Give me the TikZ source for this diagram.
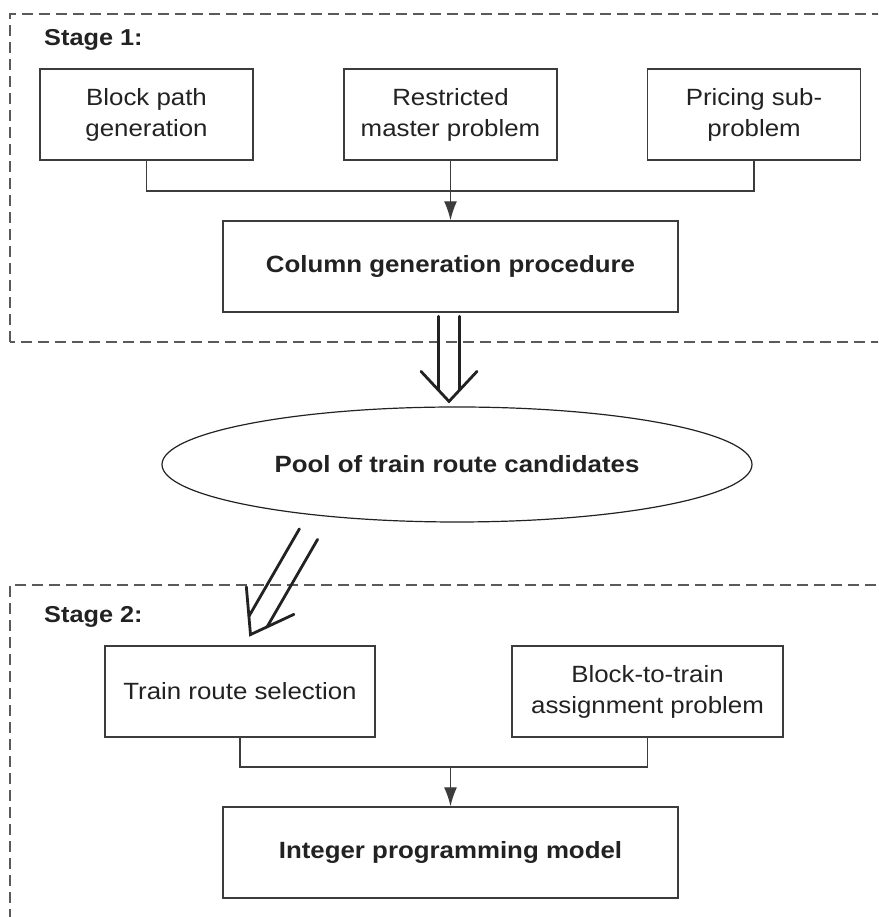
\documentclass[tikz,border=0pt]{standalone}
\usepackage{fontspec}
\setmainfont{Liberation Sans}[FakeStretch=1.1]
\usetikzlibrary{arrows.meta,shapes.geometric,calc}
\definecolor{ink}{HTML}{222222}
\definecolor{frame}{HTML}{3C3C3C}
\definecolor{dashc}{HTML}{5A5A5A}
\begin{document}
\begin{tikzpicture}[x=1pt,y=1pt,
  box/.style={draw=frame, line width=1.4pt, minimum height=91pt, align=center,
    inner sep=0pt, text=ink, font=\fontsize{23.5}{31}\selectfont},
  bbox/.style={box, font=\fontsize{23.5}{31}\selectfont\bfseries},
  stagebox/.style={draw=dashc, line width=1.2pt, dash pattern=on 11pt off 6pt},
  stagelabel/.style={anchor=base west, text=ink, inner sep=0pt, font=\fontsize{23}{30}\selectfont\bfseries},
  conn/.style={draw=frame, line width=1.4pt},
  arr/.style={conn, -{Latex[length=19pt,width=13pt]}},
  fat/.style={draw=ink, line width=2.8pt, line cap=round, line join=miter}
]
\useasboundingbox (0,0) rectangle (878,917);
\fill[white] (0,0) rectangle (878,917);
\clip (0,0) rectangle (878,917);

% stage frames
\draw[stagebox] (10,575) rectangle (900,903);
\draw[stagebox] (10,-20) rectangle (900,332);
\node[stagelabel] (s1) at (44,871) {Stage 1:};
\node[stagelabel] (s2) at (44,294) {Stage 2:};

% stage 1
\node[box, minimum width=213pt] (b1) at (146.5,802.5) {Block path\\generation};
\node[box, minimum width=213pt] (b2) at (450.5,802.5) {Restricted\\master problem};
\node[box, minimum width=213pt] (b3) at (754,802.5) {Pricing sub-\\problem};
\node[bbox, minimum width=455pt] (cg) at (450.5,650.5) {Column generation procedure};
\coordinate (j1) at (450.5,726);
\draw[conn] (b1.south) |- (j1) -| (b3.south);
\draw[arr] (b2.south) -- (cg.north);

% pool
\node[ellipse, draw=ink, line width=1.2pt, minimum width=590pt, minimum height=115pt,
  inner sep=0pt, text=ink, font=\fontsize{23.5}{31}\selectfont\bfseries] (pool) at (457,452.5)
  {Pool of train route candidates};

% stage 2
\node[box, minimum width=270pt] (trs) at (240,225.5) {Train route selection};
\node[box, minimum width=271pt] (btt) at (647.5,225.5) {Block-to-train\\assignment problem};
\node[bbox, minimum width=455pt] (ipm) at (450.5,64.5) {Integer programming model};
\coordinate (j2) at (450.5,150);
\draw[conn] (trs.south) |- (j2) -| (btt.south);
\draw[arr] (j2) -- (ipm.north);

% double arrows: pool <- column generation, trs <- pool
\coordinate (t1) at ($(pool.north)+(-8,5)$);
\begin{scope}[shift={(t1)}, rotate=-90]
  \draw[fat] (-85,10.5) -- (-11.3,10.5);
  \draw[fat] (-85,-10.5) -- (-11.3,-10.5);
  \draw[fat] (-30,28) -- (0,0) -- (-30,-28);
\end{scope}
\coordinate (t2) at (250.5,282.4);
\begin{scope}[shift={(t2)}, rotate=240]
  \draw[fat] (-116,10.5) -- (-15,10.5);
  \draw[fat] (-116,-10.5) -- (-15,-10.5);
  \draw[fat] (-39.3,27.5) -- (0,0) -- (-39.3,-27.5);
\end{scope}
\end{tikzpicture}
\end{document}
